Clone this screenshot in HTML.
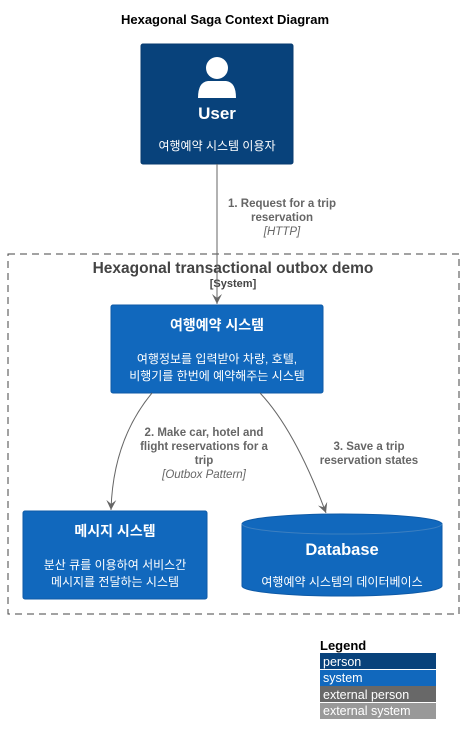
<!DOCTYPE html>
<html><head><meta charset="utf-8"><style>
html,body{margin:0;padding:0;background:#fff;}
svg{display:block;}
text{font-family:"Liberation Sans","Noto Sans CJK KR",sans-serif;}
</style></head><body>
<svg width="463" height="741" viewBox="0 0 463 741" xmlns="http://www.w3.org/2000/svg">
<defs><marker id="a" markerWidth="12" markerHeight="10" refX="10" refY="5" orient="auto" markerUnits="userSpaceOnUse"><path d="M0,0 L10,5 L0,10 L4,5 Z" fill="#666"/></marker></defs>
<text x="225" y="24" font-size="13" font-weight="bold" text-anchor="middle" fill="#000">Hexagonal Saga Context Diagram</text>
<rect x="141" y="44" width="152" height="120" rx="2" fill="#08427b" stroke="#073b6f"/>
<circle cx="217" cy="68" r="11" fill="#fff"/>
<path d="M198,98 Q198,82 208,81 L226,81 Q236,82 236,98 Z" fill="#fff"/>
<text x="217" y="119" font-size="17" font-weight="bold" text-anchor="middle" fill="#fff">User</text>
<text x="217" y="150" font-size="12" text-anchor="middle" fill="#fff">여행예약 시스템 이용자</text>
<rect x="8" y="254" width="451" height="360" fill="none" stroke="#444" stroke-dasharray="7,5"/>
<text x="233" y="273" font-size="15.5" font-weight="bold" text-anchor="middle" fill="#444">Hexagonal transactional outbox demo</text>
<text x="233" y="287" font-size="11" font-weight="bold" text-anchor="middle" fill="#444">[System]</text>
<line x1="217" y1="164" x2="217" y2="304" stroke="#666" stroke-width="1" marker-end="url(#a)"/>
<text x="282" y="207" font-size="11.5" font-weight="bold" text-anchor="middle" fill="#666">1. Request for a trip</text>
<text x="282" y="221" font-size="11.5" font-weight="bold" text-anchor="middle" fill="#666">reservation</text>
<text x="282" y="235" font-size="11.5" font-style="italic" text-anchor="middle" fill="#666">[HTTP]</text>
<rect x="111" y="305" width="212" height="88" rx="2" fill="#1168bd" stroke="#0e5aa7"/>
<text x="217" y="330" font-size="14" font-weight="bold" text-anchor="middle" fill="#fff">여행예약 시스템</text>
<text x="217" y="363" font-size="12" text-anchor="middle" fill="#fff">여행정보를 입력받아 차량, 호텔,</text>
<text x="217" y="380" font-size="12" text-anchor="middle" fill="#fff">비행기를 한번에 예약해주는 시스템</text>
<path d="M152,393 Q113,440 111,510" fill="none" stroke="#666" marker-end="url(#a)"/>
<path d="M260,393 Q295,430 326,513" fill="none" stroke="#666" marker-end="url(#a)"/>
<text x="204" y="436" font-size="11.5" font-weight="bold" text-anchor="middle" fill="#666">2. Make car, hotel and</text>
<text x="204" y="450" font-size="11.5" font-weight="bold" text-anchor="middle" fill="#666">flight reservations for a</text>
<text x="204" y="464" font-size="11.5" font-weight="bold" text-anchor="middle" fill="#666">trip</text>
<text x="204" y="478" font-size="11.5" font-style="italic" text-anchor="middle" fill="#666">[Outbox Pattern]</text>
<text x="369" y="450" font-size="11.5" font-weight="bold" text-anchor="middle" fill="#666">3. Save a trip</text>
<text x="369" y="464" font-size="11.5" font-weight="bold" text-anchor="middle" fill="#666">reservation states</text>
<rect x="23" y="511" width="184" height="88" rx="2" fill="#1168bd" stroke="#0e5aa7"/>
<text x="115" y="536" font-size="14" font-weight="bold" text-anchor="middle" fill="#fff">메시지 시스템</text>
<text x="115" y="569" font-size="12" text-anchor="middle" fill="#fff">분산 큐를 이용하여 서비스간</text>
<text x="115" y="586" font-size="12" text-anchor="middle" fill="#fff">메시지를 전달하는 시스템</text>
<path d="M242,524 A100,10 0 0 1 442,524 L442,586 A100,10 0 0 1 242,586 Z" fill="#1168bd" stroke="#0e5aa7"/>
<path d="M242,524 A100,10 0 0 0 442,524" fill="none" stroke="#3c7fc0"/>
<text x="342" y="555" font-size="16.5" font-weight="bold" text-anchor="middle" fill="#fff">Database</text>
<text x="342" y="586" font-size="12" text-anchor="middle" fill="#fff">여행예약 시스템의 데이터베이스</text>
<text x="320" y="650" font-size="13" font-weight="bold" fill="#000">Legend</text>
<rect x="320" y="653" width="116" height="16" fill="#08427b"/>
<rect x="320" y="670" width="116" height="16" fill="#1168bd"/>
<rect x="320" y="686" width="116" height="16" fill="#686868"/>
<rect x="320" y="703" width="116" height="16" fill="#999"/>
<text x="323" y="666" font-size="12.5" fill="#fff">person</text>
<text x="323" y="682" font-size="12.5" fill="#fff">system</text>
<text x="323" y="699" font-size="12.5" fill="#fff">external person</text>
<text x="323" y="715" font-size="12.5" fill="#fff">external system</text>
</svg>
</body></html>
